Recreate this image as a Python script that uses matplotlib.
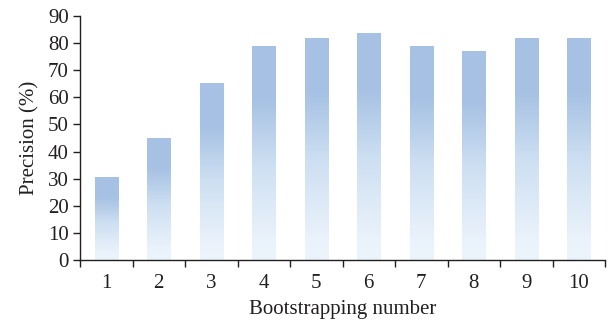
import numpy as np
import matplotlib
matplotlib.use("Agg")
import matplotlib.pyplot as plt
from matplotlib.colors import LinearSegmentedColormap

categories = ["1", "2", "3", "4", "5", "6", "7", "8", "9", "10"]
precision = [30.3, 45.0, 65.0, 78.7, 81.6, 83.5, 78.7, 76.8, 81.6, 81.6]
yticks = [0, 10, 20, 30, 40, 50, 60, 70, 80, 90]

plt.rcParams['font.family'] = ['Liberation Serif', 'DejaVu Serif']

fig = plt.figure(figsize=(6.08, 3.24), dpi=100)
ax = fig.add_axes([80/608, 1-260/324, 525/608, 244/324])

x = np.arange(len(categories))
width = 0.44
bars = ax.bar(x, precision, width=width, color='none', edgecolor='none')

cmap = LinearSegmentedColormap.from_list(
    'g', [(0.0, '#ecf4fc'), (0.1, '#eaf2fb'), (0.45, '#cddff2'), (0.75, '#a7c2e4'), (1.0, '#a6c1e4')])
grad = np.linspace(0, 1, 256).reshape(-1, 1)
for b in bars:
    x0, h = b.get_x(), b.get_height()
    ax.imshow(grad, cmap=cmap, origin='lower', aspect='auto',
              extent=(x0, x0 + b.get_width(), 0, h), interpolation='bicubic', zorder=2)

ax.set_xlim(-0.5, len(categories) - 0.5)
ax.set_ylim(0, 90)
ax.set_yticks(yticks)
ax.set_xticks(x)
ax.set_xticklabels(categories)
ax.set_xticks(np.arange(-0.5, len(categories) + 0.5, 1), minor=True)
ax.tick_params(axis='x', which='major', length=0, pad=10, labelsize=15, colors='#231f20')
ax.tick_params(axis='x', which='minor', length=5, width=1, direction='out', color='#231f20')
ax.tick_params(axis='y', length=5, width=1, direction='out', labelsize=15, colors='#231f20', pad=3)

for s in ['top', 'right']:
    ax.spines[s].set_visible(False)
for s in ['left', 'bottom']:
    ax.spines[s].set_color('#231f20')
    ax.spines[s].set_linewidth(1)

ax.set_xlabel('Bootstrapping number', fontsize=15, color='#231f20', labelpad=5)
ax.set_ylabel('Precision (%)', fontsize=15, color='#231f20', labelpad=6)

fig.savefig('out.png', dpi=100)
